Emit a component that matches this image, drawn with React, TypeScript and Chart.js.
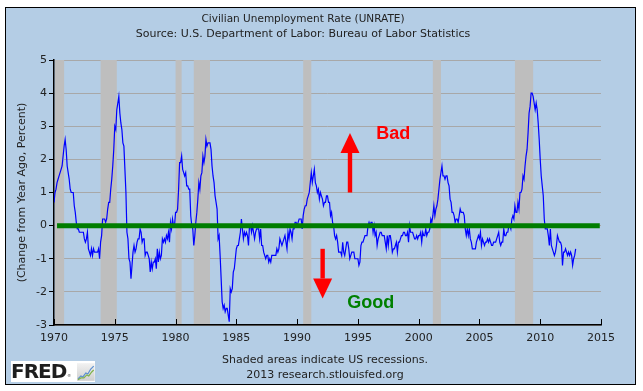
import React, { useEffect, useRef } from "react";
import { Chart, registerables } from "chart.js";

Chart.register(...registerables);

// ---- Data: change from year ago of the civilian unemployment rate (percentage points), monthly from Jan 1970 ----
const START_YEAR = 1970;

const chg1970s = [
  0.7, 1.0, 1.1, 1.3, 1.4, 1.5, 1.6, 1.7, 1.8, 2.1, 2.4, 2.6,
  2.3, 1.8, 1.6, 1.4, 1.1, 1.0, 1.0, 1.0, 0.6, 0.4, 0.1, -0.1,
  -0.1, -0.2, -0.2, -0.2, -0.2, -0.2, -0.4, -0.5, -0.4, -0.2, -0.7, -0.8,
  -0.9, -0.7, -0.9, -0.7, -0.8, -0.8, -0.8, -0.8, -0.7, -1.0, -0.5, -0.3,
  0.2, 0.2, 0.2, 0.1, 0.2, 0.5, 0.7, 0.7, 1.1, 1.4, 1.8, 2.3,
  3.0, 2.9, 3.5, 3.7, 3.9, 3.4, 3.1, 2.9, 2.5, 2.4, 1.7, 1.0,
  -0.2, -0.4, -1.0, -1.1, -1.6, -1.2, -0.8, -0.6, -0.8, -0.7, -0.5, -0.4,
  -0.4, -0.1, -0.2, -0.5, -0.4, -0.4, -0.9, -0.8, -0.8, -0.9, -1.0, -1.4,
  -1.1, -1.3, -1.1, -1.1, -1.0, -1.3, -0.7, -1.1, -0.8, -1.0, -0.9, -0.4,
  -0.5, -0.4, -0.5, -0.3, -0.4, -0.2, -0.5, 0.1, -0.1, 0.2, 0.0, 0.0,
];

const chg1980s = [
  0.4, 0.4, 0.5, 1.1, 1.9, 1.9, 2.1, 1.7, 1.6, 1.5, 1.6, 1.2,
  1.2, 1.1, 1.1, 0.3, 0.0, -0.1, -0.6, -0.3, 0.1, 0.4, 0.8, 1.3,
  1.1, 1.5, 1.6, 2.1, 1.9, 2.1, 2.6, 2.4, 2.5, 2.5, 2.5, 2.3,
  1.8, 1.5, 1.3, 0.9, 0.7, 0.5, -0.4, -0.3, -0.9, -1.6, -2.3, -2.5,
  -2.4, -2.6, -2.5, -2.5, -2.7, -2.9, -1.9, -2.0, -1.9, -1.4, -1.3, -1.0,
  -0.7, -0.6, -0.6, -0.4, -0.2, 0.2, -0.1, -0.4, -0.2, -0.3, -0.2, -0.3,
  -0.6, 0.0, 0.0, -0.2, 0.0, -0.2, -0.4, -0.2, -0.1, -0.1, -0.1, -0.4,
  -0.1, -0.6, -0.6, -0.8, -0.9, -1.0, -0.9, -0.9, -1.1, -1.0, -1.1, -0.9,
  -0.9, -0.9, -0.9, -0.9, -0.7, -0.8, -0.7, -0.4, -0.5, -0.6, -0.5, -0.4,
  -0.3, -0.5, -0.7, -0.2, -0.4, -0.1, -0.2, -0.4, -0.1, -0.1, 0.1, 0.1,
];

const chg1990s = [
  0.0, 0.1, 0.2, 0.2, 0.2, -0.1, 0.3, 0.5, 0.6, 0.6, 0.8, 0.9,
  1.0, 1.3, 1.6, 1.3, 1.5, 1.7, 1.3, 1.2, 1.0, 1.1, 0.8, 1.0,
  0.9, 0.8, 0.6, 0.7, 0.7, 0.9, 0.9, 0.7, 0.7, 0.3, 0.4, 0.1,
  0.0, -0.3, -0.4, -0.3, -0.5, -0.8, -0.8, -0.8, -0.9, -0.5, -0.8, -0.9,
  -0.7, -0.5, -0.5, -0.7, -1.0, -0.9, -0.8, -0.8, -0.8, -1.0, -1.0, -1.0,
  -1.0, -1.2, -1.1, -0.6, -0.5, -0.5, -0.4, -0.3, -0.3, -0.3, 0.0, 0.1,
  0.0, 0.1, 0.1, -0.2, 0.0, -0.3, -0.2, -0.6, -0.4, -0.3, -0.2, -0.2,
  -0.3, -0.3, -0.3, -0.5, -0.7, -0.3, -0.6, -0.3, -0.3, -0.5, -0.8, -0.7,
  -0.7, -0.6, -0.5, -0.8, -0.5, -0.5, -0.4, -0.3, -0.3, -0.2, -0.2, -0.3,
  -0.3, -0.2, -0.5, 0.0, -0.2, -0.2, -0.2, -0.3, -0.4, -0.4, -0.3, -0.4,
];

const chg2000s = [
  -0.3, -0.3, -0.2, -0.5, -0.2, -0.3, -0.3, -0.1, -0.3, -0.2, -0.2, -0.1,
  0.2, 0.1, 0.3, 0.6, 0.3, 0.5, 0.6, 0.8, 1.1, 1.4, 1.6, 1.8,
  1.5, 1.5, 1.4, 1.5, 1.5, 1.3, 1.2, 0.8, 0.7, 0.4, 0.4, 0.3,
  0.1, 0.2, 0.2, 0.1, 0.3, 0.5, 0.4, 0.4, 0.4, 0.3, -0.1, -0.3,
  -0.1, -0.3, -0.1, -0.4, -0.5, -0.7, -0.7, -0.7, -0.7, -0.5, -0.4, -0.3,
  -0.4, -0.2, -0.6, -0.4, -0.5, -0.6, -0.5, -0.5, -0.4, -0.5, -0.4, -0.5,
  -0.6, -0.6, -0.5, -0.5, -0.5, -0.4, -0.3, -0.2, -0.5, -0.6, -0.5, -0.5,
  -0.1, -0.3, -0.3, -0.2, -0.2, 0.0, 0.0, -0.1, 0.2, 0.3, 0.2, 0.6,
  0.4, 0.4, 0.7, 0.5, 1.0, 1.0, 1.1, 1.5, 1.4, 1.8, 2.1, 2.3,
  2.8, 3.4, 3.6, 4.0, 4.0, 3.9, 3.7, 3.5, 3.7, 3.5, 3.1, 2.6,
];

const chg2010s = [
  2.0, 1.5, 1.2, 0.9, 0.2, -0.1, -0.1, -0.1, -0.3, -0.6, -0.1, -0.6,
  -0.7, -0.8, -0.9, -0.8, -0.6, -0.3, -0.4, -0.5, -0.5, -0.6, -1.2, -0.8,
  -0.8, -0.7, -0.8, -0.9, -0.8, -0.9, -0.8, -0.9, -1.2, -1.0, -0.9, -0.7,
];

// US recessions (NBER peak month -> trough month)
const recessionStarts = ["1969-12", "1973-11", "1980-01", "1981-07", "1990-07", "2001-03", "2007-12"];
const recessionEnds = ["1970-11", "1975-03", "1980-07", "1982-11", "1991-03", "2001-11", "2009-06"];

// Axis ticks
const xTickYears = [1970, 1975, 1980, 1985, 1990, 1995, 2000, 2005, 2010, 2015];
const yTickValues = [-3, -2, -1, 0, 1, 2, 3, 4, 5];

// Annotations (in data units)
const zeroLineYears = [1970.25, 2014.9];
const arrowYears = [1994.35, 1992.1];
const arrowFrom = [1.0, -0.7];
const arrowTo = [2.8, -2.2];
const noteTexts = ["Bad", "Good"];
const noteYears = [1997.9, 1996.05];
const noteValues = [2.8, -2.3];
const noteColors = ["#ff0000", "#008000"];

const TITLE = "Civilian Unemployment Rate (UNRATE)";
const SUBTITLE = "Source: U.S. Department of Labor: Bureau of Labor Statistics";
const Y_TITLE = "(Change from Year Ago, Percent)";
const FOOTER1 = "Shaded areas indicate US recessions.";
const FOOTER2 = "2013 research.stlouisfed.org";

const FONT = '"DejaVu Sans", Verdana, sans-serif';
const TEXT_COLOR = "#222222";

function toYear(s: string): number {
  const [y, m] = s.split("-").map(Number);
  return y + (m - 1) / 12;
}

export default function App() {
  const ref = useRef<HTMLCanvasElement | null>(null);

  useEffect(() => {
    const canvas = ref.current;
    if (!canvas) return;

    const series = [...chg1970s, ...chg1980s, ...chg1990s, ...chg2000s, ...chg2010s];
    const points = series.map((v, i) => ({ x: START_YEAR + i / 12, y: v }));
    const zeroLine = zeroLineYears.map((x) => ({ x, y: 0 }));

    const decor = {
      id: "fredDecor",
      beforeDatasetsDraw(chart: any) {
        const { ctx, chartArea: a, scales } = chart;
        const x = scales.x;
        ctx.save();
        ctx.beginPath();
        ctx.rect(a.left + 1, a.top, a.right - a.left - 1, a.bottom - a.top - 1);
        ctx.clip();
        ctx.fillStyle = "#bebebe";
        recessionStarts.forEach((s, i) => {
          const x0 = x.getPixelForValue(toYear(s));
          const x1 = x.getPixelForValue(toYear(recessionEnds[i]));
          ctx.fillRect(x0, a.top, x1 - x0, a.bottom - a.top);
        });
        ctx.restore();

        // inward x tick marks
        ctx.save();
        ctx.strokeStyle = "#000";
        ctx.lineWidth = 1;
        xTickYears.forEach((yr) => {
          const px = Math.round(x.getPixelForValue(yr)) + 0.5;
          ctx.beginPath();
          ctx.moveTo(px, a.bottom);
          ctx.lineTo(px, a.bottom - 6);
          ctx.stroke();
        });
        ctx.restore();
      },
      afterDatasetsDraw(chart: any) {
        const { ctx, scales } = chart;
        const x = scales.x;
        const y = scales.y;
        ctx.save();
        ctx.fillStyle = "#ff0000";
        arrowYears.forEach((yr, i) => {
          const px = x.getPixelForValue(yr);
          const p0 = y.getPixelForValue(arrowFrom[i]);
          const p1 = y.getPixelForValue(arrowTo[i]);
          const dir = p1 > p0 ? 1 : -1;
          const headLen = 20;
          const headHalf = 9.5;
          const shaftHalf = 2.2;
          const base = p1 - dir * headLen;
          ctx.beginPath();
          ctx.rect(px - shaftHalf, Math.min(p0, base), shaftHalf * 2, Math.abs(base - p0));
          ctx.fill();
          ctx.beginPath();
          ctx.moveTo(px - headHalf, base);
          ctx.lineTo(px + headHalf, base);
          ctx.lineTo(px, p1);
          ctx.closePath();
          ctx.fill();
        });
        ctx.font = 'bold 18px "Liberation Sans", Arial, sans-serif';
        ctx.textAlign = "center";
        ctx.textBaseline = "alphabetic";
        noteTexts.forEach((t, i) => {
          ctx.fillStyle = noteColors[i];
          const px = x.getPixelForValue(noteYears[i]);
          const py = y.getPixelForValue(noteValues[i]);
          ctx.fillText(t, px, py + 6.5);
        });
        ctx.restore();
      },
    };

    const tickFont = { family: FONT, size: 11 };

    const chart = new Chart(canvas, {
      type: "line",
      data: {
        datasets: [
          {
            label: "zero",
            data: zeroLine,
            borderColor: "#007d00",
            borderWidth: 5,
            pointRadius: 0,
            borderCapStyle: "butt",
          },
          {
            label: "UNRATE",
            data: points,
            borderColor: "#0000ff",
            borderWidth: 1.2,
            pointRadius: 0,
            tension: 0,
          },
        ],
      },
      options: {
        responsive: false,
        animation: false,
        devicePixelRatio: 1,
        events: [],
        layout: { padding: { left: 5, right: 42, top: 0, bottom: 0 } },
        plugins: {
          legend: { display: false },
          tooltip: { enabled: false },
          title: {
            display: true,
            text: TITLE,
            color: TEXT_COLOR,
            font: { family: FONT, size: 10.5, weight: "normal" },
            padding: { top: 12.5, bottom: 0 },
          },
          subtitle: {
            display: true,
            text: SUBTITLE,
            color: TEXT_COLOR,
            font: { family: FONT, size: 11, weight: "normal" },
            padding: { top: 2, bottom: 19.7 },
          },
        },
        scales: {
          x: {
            type: "linear",
            min: 1970,
            max: 2015,
            afterBuildTicks: (s: any) => {
              s.ticks = xTickYears.map((v) => ({ value: v }));
            },
            ticks: {
              autoSkip: false,
              maxRotation: 0,
              color: TEXT_COLOR,
              font: tickFont,
              padding: 7,
              callback: (v: any) => String(v),
            },
            grid: { display: false, drawTicks: false },
            border: { display: true, color: "#000", width: 1.5 },
            afterFit: (s: any) => {
              s.height = 66;
            },
          },
          y: {
            min: -3,
            max: 5,
            afterBuildTicks: (s: any) => {
              s.ticks = yTickValues.map((v) => ({ value: v }));
            },
            ticks: {
              color: TEXT_COLOR,
              font: tickFont,
              padding: 2,
              callback: (v: any) => String(v),
            },
            grid: { color: "#a8a8a8", lineWidth: 1, tickColor: "#000", tickLength: 5 },
            border: { display: true, color: "#000", width: 1.5 },
            title: {
              display: true,
              text: Y_TITLE,
              color: TEXT_COLOR,
              font: tickFont,
              padding: { top: 11, bottom: 0 },
            },
            afterFit: (s: any) => {
              s.width = 49;
            },
          },
        },
      },
      plugins: [decor],
    } as any);

    return () => chart.destroy();
  }, []);

  return (
    <div style={{ position: "absolute", left: 0, top: 0, width: 643, height: 391, background: "#ffffff", overflow: "hidden" }}>
      <div
        style={{
          position: "absolute",
          left: 5,
          top: 7,
          width: 631,
          height: 378,
          boxSizing: "border-box",
          border: "1.5px solid #000",
          background: "#b4cde5",
        }}
      />
      <canvas ref={ref} width={643} height={391} style={{ position: "absolute", left: 0, top: 0 }} />
      <div
        style={{
          position: "absolute",
          left: 0,
          top: 352,
          width: 650,
          textAlign: "center",
          fontFamily: FONT,
          fontSize: 11,
          lineHeight: "15px",
          color: TEXT_COLOR,
        }}
      >
        <div>{FOOTER1}</div>
        <div>{FOOTER2}</div>
      </div>
      <div
        style={{
          position: "absolute",
          left: 11,
          top: 361,
          width: 84,
          height: 21,
          background: "#ffffff",
          display: "flex",
          alignItems: "center",
        }}
      >
        <span
          style={{
            fontFamily: '"DejaVu Sans", sans-serif',
            fontWeight: "bold",
            fontSize: 20,
            letterSpacing: "-1px",
            color: "#1e1e1e",
            lineHeight: "21px",
            marginLeft: 0,
          }}
        >
          FRED
        </span>
        <span style={{ fontFamily: FONT, fontSize: 4, color: "#444", alignSelf: "flex-end", marginBottom: 4, marginLeft: 1 }}>®</span>
        <svg width="18" height="18" style={{ marginLeft: 6 }} viewBox="0 0 18 18">
          <defs>
            <linearGradient id="fredIconBg" x1="0" y1="0" x2="0" y2="1">
              <stop offset="0" stopColor="#f2f2f2" />
              <stop offset="1" stopColor="#cfcfcf" />
            </linearGradient>
          </defs>
          <rect x="0" y="0" width="18" height="18" fill="url(#fredIconBg)" />
          <polyline points="1,16 4,13 6,14 9,10 11,11 14,6 17,3" fill="none" stroke="#5a8fd0" strokeWidth="1.2" />
          <polyline points="1,17 4,15 7,15 10,12 12,13 15,9 17,7" fill="none" stroke="#7fb24a" strokeWidth="1.2" />
        </svg>
      </div>
    </div>
  );
}
